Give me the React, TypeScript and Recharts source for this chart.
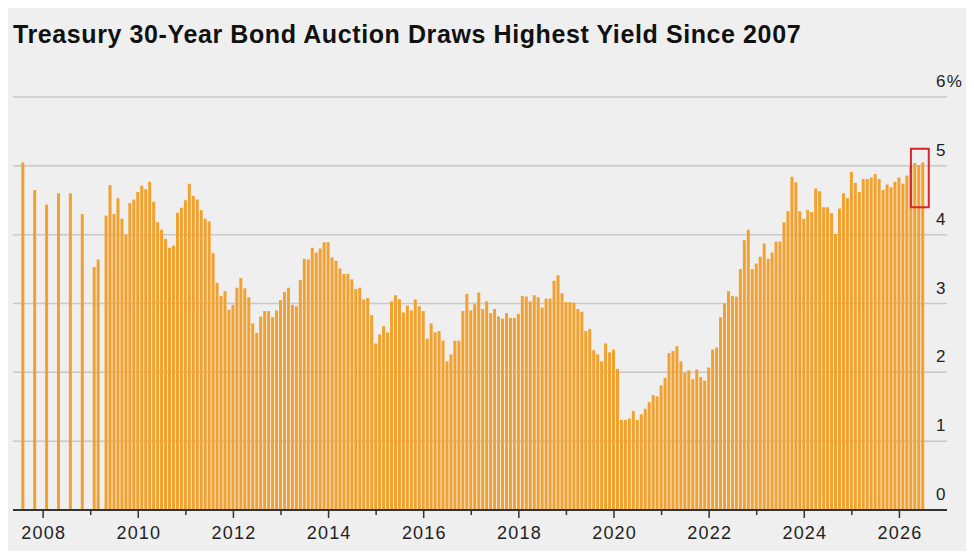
import React from "react";
import { BarChart, Bar, XAxis, YAxis, CartesianGrid, ReferenceArea } from "recharts";

// auctions before monthly issuance (quarterly, then Feb/Mar 2009)
const earlyMonths = ["2007-08", "2007-11", "2008-02", "2008-05", "2008-08", "2008-11", "2009-02", "2009-03"];
const earlyYields = [5.05, 4.65, 4.44, 4.6, 4.6, 4.3, 3.53, 3.64];

// monthly auctions from May 2009 through Jul 2026, %
const monthlyStart = "2009-05";
const monthlyYields = [
  4.28, 4.72, 4.3, 4.53, 4.23, 4.0, 4.46, 4.51,
  4.62, 4.71, 4.66, 4.77, 4.48, 4.18, 4.07, 3.94, 3.81, 3.84, 4.32, 4.39,
  4.5, 4.74, 4.56, 4.51, 4.36, 4.23, 4.19, 3.73, 3.3, 3.11, 3.18, 2.91,
  2.98, 3.23, 3.37, 3.22, 3.09, 2.71, 2.57, 2.81, 2.89, 2.89, 2.8, 2.9,
  3.05, 3.17, 3.23, 2.98, 2.96, 3.34, 3.65, 3.64, 3.81, 3.74, 3.8, 3.89,
  3.89, 3.67, 3.62, 3.51, 3.43, 3.43, 3.35, 3.21, 3.23, 3.06, 3.08, 2.83,
  2.42, 2.55, 2.67, 2.58, 3.03, 3.12, 3.06, 2.87, 2.97, 2.9, 3.06, 2.96,
  2.89, 2.49, 2.71, 2.58, 2.6, 2.46, 2.16, 2.26, 2.46, 2.46, 2.89, 3.14,
  2.9, 2.99, 3.16, 2.92, 3.03, 2.86, 2.92, 2.81, 2.78, 2.86, 2.79, 2.79,
  2.85, 3.11, 3.1, 3.03, 3.12, 3.09, 2.94, 3.07, 3.07, 3.33, 3.41, 3.15,
  3.02, 3.02, 3.01, 2.92, 2.88, 2.6, 2.63, 2.32, 2.26, 2.16, 2.42, 2.29,
  2.33, 2.05, 1.31, 1.31, 1.33, 1.44, 1.31, 1.39, 1.47, 1.57, 1.67, 1.65,
  1.81, 1.92, 2.28, 2.31, 2.38, 2.16, 1.99, 2.03, 1.9, 2.04, 1.93, 1.88,
  2.07, 2.33, 2.36, 2.8, 3.0, 3.18, 3.11, 3.1, 3.5, 3.92, 4.07, 3.5,
  3.58, 3.68, 3.87, 3.65, 3.74, 3.9, 3.9, 4.18, 4.34, 4.84, 4.76, 4.34,
  4.23, 4.36, 4.33, 4.67, 4.63, 4.4, 4.4, 4.31, 4.01, 4.38, 4.6, 4.53,
  4.91, 4.75, 4.62, 4.81, 4.81, 4.83, 4.88, 4.81, 4.65, 4.73, 4.69, 4.77,
  4.83, 4.74, 4.86, 5.0, 5.04, 5.01, 5.05,
];

const yearTicks = [2008, 2009, 2010, 2011, 2012, 2013, 2014, 2015, 2016, 2017, 2018, 2019, 2020, 2021, 2022, 2023, 2024, 2025, 2026];
const yTicks = [0, 1, 2, 3, 4, 5, 6];

// highlighted latest auctions
const boxFrom = "2026-05";
const boxTo = "2026-07";
const boxLow = 4.4;
const boxHigh = 5.25;

// months since Jan 2007
const monthT = (s: string) => {
  const [y, m] = s.split("-").map(Number);
  return (y - 2007) * 12 + (m - 1);
};

const data = [
  ...earlyMonths.map((m, i) => ({ t: monthT(m), y: earlyYields[i] })),
  ...monthlyYields.map((v, i) => ({ t: monthT(monthlyStart) + i, y: v })),
];

const FONT = "'Liberation Sans', Arial, Helvetica, sans-serif";
const X_DOMAIN: [number, number] = [4.4, 240];

const XTick = (props: any) => {
  const { x, y, payload } = props;
  const year = 2007 + Math.round(payload.value / 12);
  const major = year % 2 === 0;
  return (
    <g>
      <line x1={x} x2={x} y1={y} y2={y + (major ? 8 : 5)} stroke="#333" strokeWidth={1.5} />
      {major && (
        <text x={x + 0.6} y={y + 29} textAnchor="middle" fontSize={18} letterSpacing={1.2} fill="#222" fontFamily={FONT}>
          {year}
        </text>
      )}
    </g>
  );
};

const YTick = (props: any) => {
  const { x, y, payload } = props;
  return (
    <text x={x - 11} y={y - 10} textAnchor="start" fontSize={17} letterSpacing={1.2} fill="#222" fontFamily={FONT}>
      {payload.value === 6 ? "6%" : payload.value}
    </text>
  );
};

export default function App() {
  return (
    <div
      style={{
        position: "relative",
        width: 974,
        height: 559,
        margin: -8,
        background: "#efefef",
        borderTop: "1px solid #d4d4d4",
        boxSizing: "border-box",
        overflow: "hidden",
      }}
    >
      <div
        style={{
          position: "absolute",
          left: 13,
          top: 21,
          fontFamily: FONT,
          fontWeight: 700,
          fontSize: 25,
          lineHeight: "25px",
          color: "#111",
          letterSpacing: 0.6,
          whiteSpace: "nowrap",
        }}
      >
        Treasury 30-Year Bond Auction Draws Highest Yield Since 2007
      </div>
      <div style={{ position: "absolute", left: 0, top: -1 }}>
        <BarChart width={974} height={559} data={data} margin={{ top: 97, right: 0, bottom: 19, left: 13 }}>
          <CartesianGrid vertical={false} stroke="#c8c8c8" strokeWidth={1.5} />
          <XAxis
            type="number"
            dataKey="t"
            domain={X_DOMAIN}
            allowDataOverflow
            ticks={yearTicks.map((y) => (y - 2007) * 12)}
            interval={0}
            tick={<XTick />}
            tickLine={false}
            tickSize={0}
            tickMargin={0}
            axisLine={{ stroke: "#333", strokeWidth: 2 }}
            height={30}
          />
          <YAxis
            orientation="right"
            width={27}
            domain={[0, 6]}
            ticks={yTicks}
            interval={0}
            axisLine={false}
            tickLine={false}
            tickSize={0}
            tickMargin={0}
            tick={<YTick />}
          />
          <Bar dataKey="y" fill="#f2a12e" barSize={3} isAnimationActive={false} />
        </BarChart>
      </div>
      {/* overlay so the highlight box sits above the bars */}
      <div style={{ position: "absolute", left: 0, top: -1, pointerEvents: "none" }}>
        <BarChart width={974} height={559} data={data} margin={{ top: 97, right: 27, bottom: 49, left: 13 }}>
          <XAxis type="number" dataKey="t" domain={X_DOMAIN} allowDataOverflow hide />
          <YAxis domain={[0, 6]} allowDataOverflow hide />
          <ReferenceArea
            x1={monthT(boxFrom) - 1.1}
            x2={monthT(boxTo) + 1.4}
            y1={boxLow}
            y2={boxHigh}
            fill="none"
            stroke="#d9262c"
            strokeWidth={2}
            ifOverflow="visible"
          />
        </BarChart>
      </div>
    </div>
  );
}
